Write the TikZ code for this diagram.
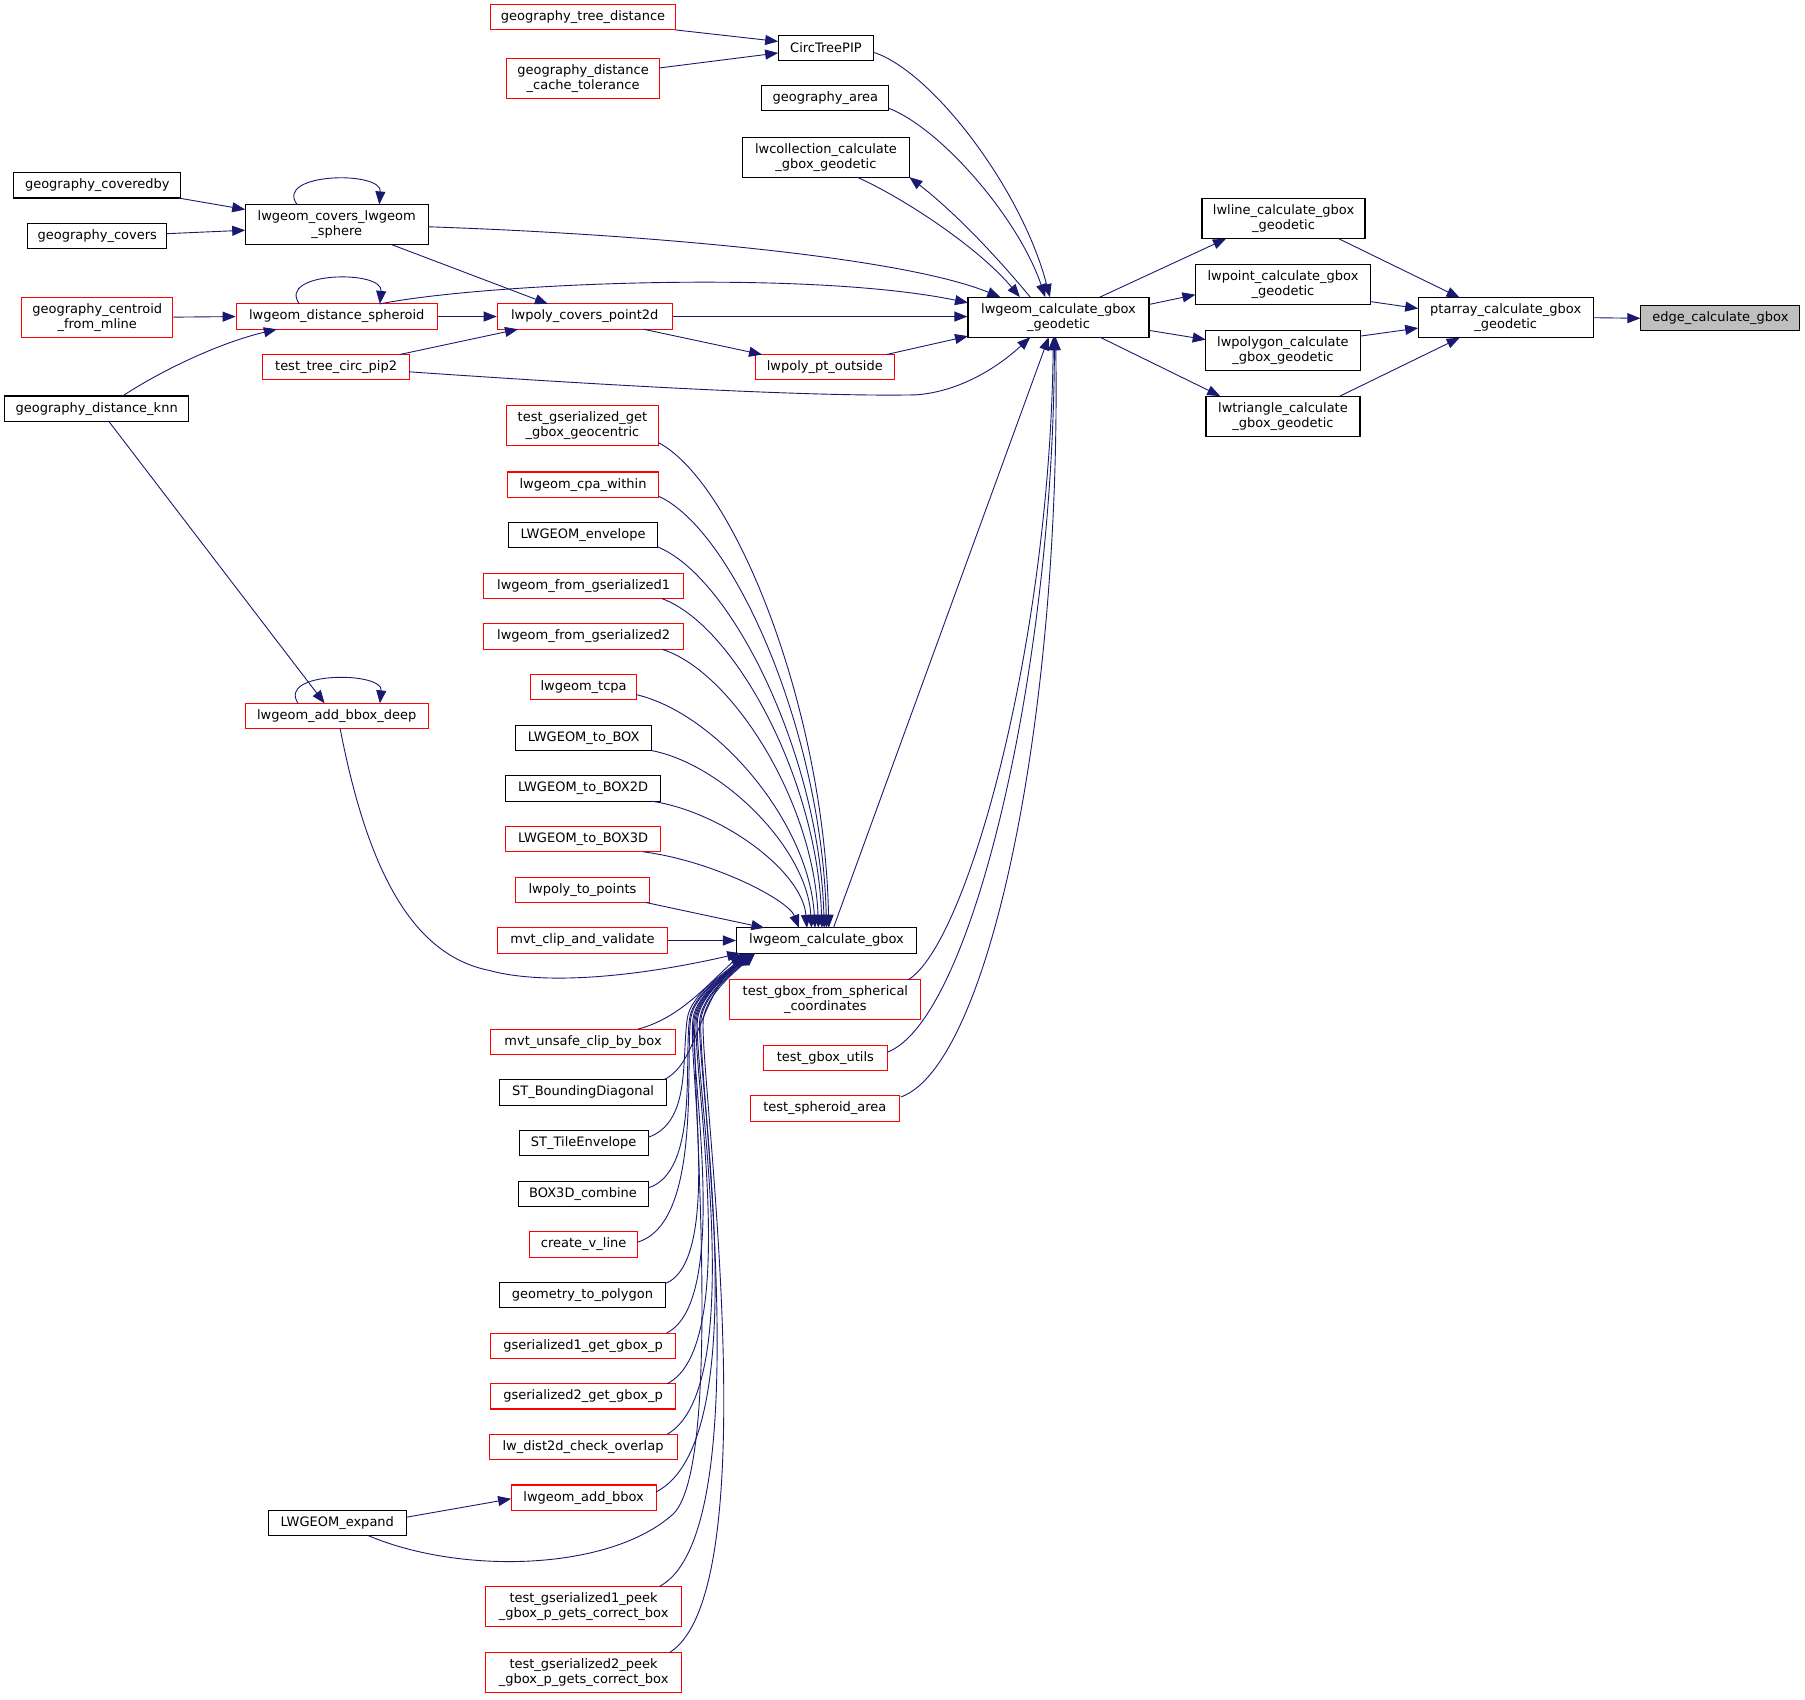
\documentclass[tikz,border=0pt]{standalone}
\usepackage{fontspec}
\setmainfont{DejaVu Sans}
\usetikzlibrary{arrows.meta,calc}
\definecolor{eblue}{HTML}{191970}
\definecolor{nred}{HTML}{FF0000}
\definecolor{ngray}{HTML}{BFBFBF}
\newcommand{\nodefont}{\fontsize{13pt}{15pt}\selectfont}
\begin{document}
\begin{tikzpicture}[x=1.1512pt,y=-1.1512pt,
 nb/.style={draw=black, line width=1.1pt, fill=white, inner sep=0pt, minimum height=25.3pt, align=center, font=\nodefont, text=black},
 nr/.style={nb, draw=nred},
 ng/.style={nb, fill=ngray},
 two/.style={minimum height=40pt},
 e/.style={draw=eblue, line width=0.9pt, -{Triangle[length=13pt,width=10pt]}},
]
\useasboundingbox (0,0) rectangle (1568,1476);

% ---- nodes ----
\node[nr, minimum width=185pt] (gtd) at (506.5,15) {geography\_tree\_distance};
\node[nr, two, minimum width=153pt] (gdct) at (506.5,68) {geography\_distance\\\_cache\_tolerance};
\node[nb, minimum width=95.5pt] (ctp) at (717.5,41.5) {CircTreePIP};
\node[nb, minimum width=127pt] (garea) at (717,85) {geography\_area};
\node[nb, two, minimum width=167pt] (lwcoll) at (717.5,136.5) {lwcollection\_calculate\\\_gbox\_geodetic};
\node[nb, minimum width=167pt] (gcovby) at (84.5,161) {geography\_coveredby};
\node[nb, minimum width=139pt] (gcov) at (84.5,205) {geography\_covers};
\node[nb, two, minimum width=183pt] (covsph) at (292.5,195) {lwgeom\_covers\_lwgeom\\\_sphere};
\node[nr, two, minimum width=151pt] (gcent) at (84.5,275.5) {geography\_centroid\\\_from\_mline};
\node[nr, minimum width=201pt] (dsph) at (292.5,275) {lwgeom\_distance\_spheroid};
\node[nr, minimum width=175pt] (pcov) at (508,275) {lwpoly\_covers\_point2d};
\node[nr, minimum width=147pt] (tcp2) at (292,319) {test\_tree\_circ\_pip2};
\node[nb, minimum width=184pt] (gknn) at (84,355) {geography\_distance\_knn};
\node[nr, minimum width=139pt] (pout) at (716.5,319) {lwpoly\_pt\_outside};
\node[nb, two, minimum width=181pt] (geod) at (919.5,275.5) {lwgeom\_calculate\_gbox\\\_geodetic};
\node[nb, two, minimum width=163pt] (lwline) at (1115,190) {lwline\_calculate\_gbox\\\_geodetic};
\node[nb, two, minimum width=175pt] (lwpoint) at (1114.5,247) {lwpoint\_calculate\_gbox\\\_geodetic};
\node[nb, two, minimum width=154.5pt] (lwpolygon) at (1114.5,304.5) {lwpolygon\_calculate\\\_gbox\_geodetic};
\node[nb, two, minimum width=154pt] (lwtri) at (1114.5,361.5) {lwtriangle\_calculate\\\_gbox\_geodetic};
\node[nb, two, minimum width=175pt] (ptarr) at (1308,276) {ptarray\_calculate\_gbox\\\_geodetic};
\node[ng, minimum width=159pt] (edge) at (1494.5,276.5) {edge\_calculate\_gbox};

\node[nr, two, minimum width=152pt] (tgget) at (506,369.5) {test\_gserialized\_get\\\_gbox\_geocentric};
\node[nr, minimum width=151pt] (cpa) at (506.5,421) {lwgeom\_cpa\_within};
\node[nb, minimum width=148.5pt] (env) at (506.5,465) {LWGEOM\_envelope};
\node[nr, minimum width=200pt] (fg1) at (507,509) {lwgeom\_from\_gserialized1};
\node[nr, minimum width=200pt] (fg2) at (507,553) {lwgeom\_from\_gserialized2};
\node[nr, minimum width=106pt] (tcpa) at (507,597) {lwgeom\_tcpa};
\node[nb, minimum width=136pt] (tobox) at (507,641) {LWGEOM\_to\_BOX};
\node[nb, minimum width=155pt] (tobox2) at (506.5,685) {LWGEOM\_to\_BOX2D};
\node[nr, minimum width=155pt] (tobox3) at (506.5,729) {LWGEOM\_to\_BOX3D};
\node[nr, minimum width=134pt] (ptp) at (506,773) {lwpoly\_to\_points};
\node[nr, minimum width=170pt] (mvtc) at (506,817) {mvt\_clip\_and\_validate};
\node[nr, minimum width=183pt] (abd) at (292.5,622) {lwgeom\_add\_bbox\_deep};
\node[nb, minimum width=180pt] (lgc) at (718,817) {lwgeom\_calculate\_gbox};
\node[nr, two, minimum width=191pt] (tgfs) at (717,868.5) {test\_gbox\_from\_spherical\\\_coordinates};
\node[nr, minimum width=124pt] (tgu) at (717,919) {test\_gbox\_utils};
\node[nr, minimum width=148.5pt] (tsa) at (716.5,963) {test\_spheroid\_area};
\node[nr, minimum width=185pt] (mvtu) at (506.5,905) {mvt\_unsafe\_clip\_by\_box};
\node[nb, minimum width=167pt] (stbd) at (506.5,949) {ST\_BoundingDiagonal};
\node[nb, minimum width=129pt] (stte) at (507,993) {ST\_TileEnvelope};
\node[nb, minimum width=130pt] (b3c) at (506.5,1037) {BOX3D\_combine};
\node[nr, minimum width=108pt] (cvl) at (507,1081) {create\_v\_line};
\node[nb, minimum width=166pt] (gtp) at (506,1125) {geometry\_to\_polygon};
\node[nr, minimum width=185pt] (g1gb) at (506.5,1169) {gserialized1\_get\_gbox\_p};
\node[nr, minimum width=185pt] (g2gb) at (506.5,1213) {gserialized2\_get\_gbox\_p};
\node[nr, minimum width=188pt] (lwd) at (506.5,1257) {lw\_dist2d\_check\_overlap};
\node[nr, minimum width=145pt] (lab) at (507,1301) {lwgeom\_add\_bbox};
\node[nb, minimum width=138pt] (lexp) at (293,1323) {LWGEOM\_expand};
\node[nr, two, minimum width=196pt] (tg1p) at (507,1395.5) {test\_gserialized1\_peek\\\_gbox\_p\_gets\_correct\_box};
\node[nr, two, minimum width=196pt] (tg2p) at (507,1453) {test\_gserialized2\_peek\\\_gbox\_p\_gets\_correct\_box};

% ---- right part ----
\draw[e] (ptarr.east) -- (edge.west);
\draw[e] ($(lwline)+(48,17.4)$) -- ($(ptarr)+(-40,-17.4)$);
\draw[e] ($(lwpoint)+(76,15)$) -- ($(ptarr)+(-76,-8)$);
\draw[e] ($(lwpolygon)+(67.1,-12.5)$) -- ($(ptarr)+(-76,9)$);
\draw[e] ($(lwtri)+(49.5,-17.4)$) -- ($(ptarr)+(-40,17.4)$);
\draw[e] ($(geod)+(36,-17.4)$) -- ($(lwline)+(-50,17.4)$);
\draw[e] ($(geod)+(78.6,-11)$) -- ($(lwpoint)+(-76,9)$);
\draw[e] ($(geod)+(78.6,11.5)$) -- ($(lwpolygon)+(-67.1,-9.5)$);
\draw[e] ($(geod)+(36,17.4)$) -- ($(lwtri)+(-54.5,-17.4)$);

% ---- top part ----
\draw[e] ($(gtd)+(80.4,11)$) -- ($(ctp)+(-41.5,-5.5)$);
\draw[e] ($(gdct)+(66.5,-9)$) -- ($(ctp)+(-41.5,4.5)$);
\draw[e] ($(ctp)+(41.5,4)$) .. controls (810,62) and (888,165) .. ($(geod)+(-7.5,-17.4)$);
\draw[e] ($(garea)+(55,9)$) .. controls (818,112) and (885,190) .. ($(geod)+(-11.5,-17.4)$);
\draw[e] ($(lwcoll)+(27,17.4)$) .. controls (785,172) and (850,215) .. ($(geod)+(-33.5,-17.4)$);
\draw[e] ($(geod)+(-24.5,-17.4)$) .. controls (865,222) and (830,185) .. ($(lwcoll)+(72.5,17.4)$);
\draw[e] ($(covsph)+(79.5,2)$) .. controls (550,203) and (780,222) .. ($(geod)+(-50.5,-17.4)$);
\draw[e] ($(dsph)+(37.5,-11)$) .. controls (420,246) and (700,234) .. ($(geod)+(-78.6,-12.5)$);
\draw[e] (pcov.east) -- (pcov.east -| geod.west);
\draw[e] ($(pout)+(53.5,-11)$) -- ($(geod)+(-78.6,16.5)$);
\draw[e] ($(pcov)+(51,11)$) -- ($(pout)+(-54.5,-11)$);
\draw[e] ($(tcp2)+(63.5,4)$) .. controls (500,333) and (700,345) .. (796,343) .. controls (835,340) and (868,318) .. ($(geod)+(-24.5,17.4)$);
\draw[e] ($(tcp2)+(55,-11)$) -- ($(pcov)+(-58,11)$);
\draw[e] (dsph.east) -- (pcov.west);
\draw[e] ($(covsph)+(47.5,17.4)$) -- ($(pcov)+(-32,-11)$);
\draw[e] ($(gcovby)+(70.5,11)$) -- ($(covsph)+(-79.5,-13)$);
\draw[e] ($(gcov)+(60.4,-2)$) -- ($(covsph)+(-79.5,5)$);
\draw[e] (gcent.east) -- (dsph.west);
\draw[e] ($(gknn)+(22.5,-11)$) .. controls (140,322) and (190,298) .. ($(dsph)+(-52,11)$);
\draw[e] ($(gknn)+(10.5,11)$) -- ($(abd)+(-10.5,-11)$);
% self loops
\draw[e] ($(covsph)+(-34.5,-17.4)$) .. controls (238,150) and (332,148) .. ($(covsph)+(37,-17.4)$);
\draw[e] ($(dsph)+(-32.5,-11)$) .. controls (240,236) and (333,234) .. ($(dsph)+(37.5,-11)$);
\draw[e] ($(abd)+(-33.5,-11)$) .. controls (240,583) and (333,583) .. ($(abd)+(37.5,-11)$);
\draw[e] ($(abd)+(3,11)$) .. controls (320,760) and (360,830) .. (425,843) .. controls (480,858) and (570,845) .. ($(lgc)+(-75,11)$);

% ---- fan into lwgeom_calculate_gbox (top) ----
\draw[e] ($(tgget)+(66,15)$) .. controls (639,420) and (716,617) .. ($(lgc)+(2,-11)$);
\draw[e] ($(cpa)+(65.5,10)$) .. controls (638,461) and (714,637) .. ($(lgc)+(0,-11)$);
\draw[e] ($(env)+(64.5,10)$) .. controls (636,501) and (712,657) .. ($(lgc)+(-2,-11)$);
\draw[e] ($(fg1)+(68,11)$) .. controls (638,543) and (710,677) .. ($(lgc)+(-4,-11)$);
\draw[e] ($(fg2)+(68,11)$) .. controls (636,583) and (707,697) .. ($(lgc)+(-7,-11)$);
\draw[e] ($(tcpa)+(46,6.5)$) .. controls (623,620) and (703,715) .. ($(lgc)+(-10,-11)$);
\draw[e] ($(tobox)+(59,11)$) .. controls (628,664) and (701,737) .. ($(lgc)+(-13,-11)$);
\draw[e] ($(tobox2)+(59.5,11)$) .. controls (627,705) and (697,757) .. ($(lgc)+(-17,-11)$);
\draw[e] ($(tobox3)+(52.5,11)$) .. controls (620,748) and (685,782) .. ($(lgc)+(-24,-11)$);
\draw[e] ($(ptp)+(55,11)$) -- ($(lgc)+(-54,-11)$);
\draw[e] (mvtc.east) -- (lgc.west);

% ---- fan into lwgeom_calculate_gbox (bottom) ----
\draw[e] ($(mvtu)+(47.5,-11)$) .. controls (590,885) and (615,855) .. ($(lgc)+(-73,11)$);
\draw[e] ($(stbd)+(70,-11)$) .. controls (605,925) and (605,875) .. ($(lgc)+(-72,11)$);
\draw[e] ($(stte)+(56,-5)$) .. controls (600,975) and (592,922) .. (597,885) .. controls (600,863) and (631,845) .. ($(lgc)+(-71,11)$);
\draw[e] ($(b3c)+(56.5,-5)$) .. controls (607,1018) and (594,922) .. (599,885) .. controls (602,863) and (632,845) .. ($(lgc)+(-70,11)$);
\draw[e] ($(cvl)+(47,-2)$) .. controls (610,1062) and (595,922) .. (600,885) .. controls (603,863) and (633,845) .. ($(lgc)+(-69,11)$);
\draw[e] ($(gtp)+(72,-10)$) .. controls (628,1095) and (597,922) .. (602,885) .. controls (605,863) and (634,844) .. ($(lgc)+(-68,11)$);
\draw[e] ($(g1gb)+(72.5,-11)$) .. controls (636,1130) and (598,922) .. (603,885) .. controls (606,863) and (635,844) .. ($(lgc)+(-67,11)$);
\draw[e] ($(g2gb)+(73,-11)$) .. controls (645,1170) and (600,922) .. (605,885) .. controls (608,863) and (636,844) .. ($(lgc)+(-66,11)$);
\draw[e] ($(lwd)+(73,-11)$) .. controls (652,1205) and (601,922) .. (606,885) .. controls (609,863) and (637,843) .. ($(lgc)+(-65,11)$);
\draw[e] ($(lab)+(63,-5)$) .. controls (660,1250) and (603,922) .. (608,885) .. controls (611,863) and (638,843) .. ($(lgc)+(-64,11)$);
\draw[e] ($(tg1p)+(66,-17.4)$) .. controls (662,1330) and (604,922) .. (609,885) .. controls (612,863) and (639,843) .. ($(lgc)+(-63,11)$);
\draw[e] ($(tg2p)+(74.6,-17.4)$) .. controls (670,1380) and (606,922) .. (611,885) .. controls (614,863) and (640,843) .. ($(lgc)+(-62,11)$);
\draw[e] ($(lexp)+(27,11)$) .. controls (400,1368) and (530,1365) .. (585,1315) .. controls (630,1270) and (599,922) .. (604,885) .. controls (607,863) and (636,844) .. ($(lgc)+(-74,11)$);
\draw[e] ($(lexp)+(60,-5)$) -- ($(lab)+(-63,1)$);

% ---- into lwgeom_calculate_gbox_geodetic (bottom) ----
\draw[e] ($(lgc)+(6,-11)$) -- ($(geod)+(-8.5,17.4)$);
\draw[e] ($(tgfs)+(72,-17.4)$) .. controls (840,820) and (912,560) .. ($(geod)+(-4.5,17.4)$);
\draw[e] ($(tgu)+(54,-5)$) .. controls (845,885) and (915,580) .. ($(geod)+(-3.5,17.4)$);
\draw[e] ($(tsa)+(66,-10)$) .. controls (860,925) and (922,620) .. ($(geod)+(-2.5,17.4)$);
\end{tikzpicture}
\end{document}
